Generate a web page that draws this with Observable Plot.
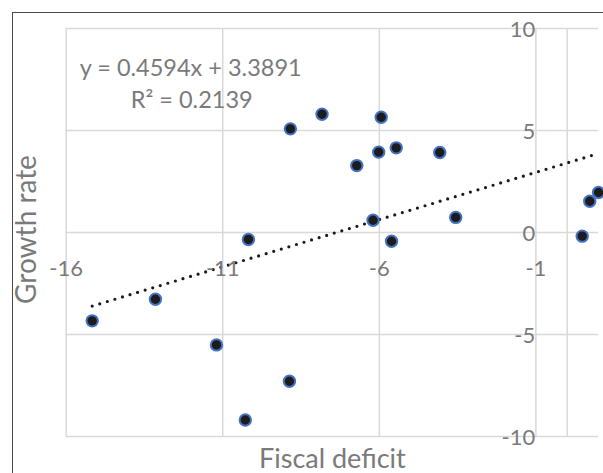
<!DOCTYPE html>
<html>
<head>
<meta charset="utf-8">
<script src="https://cdn.jsdelivr.net/npm/d3@7"></script>
<script src="https://cdn.jsdelivr.net/npm/@observablehq/plot@0.6"></script>
<style>
  html, body { margin: 0; padding: 0; background: #fff; overflow: hidden; width: 603px; height: 473px; }
  #wrap { position: relative; width: 603px; height: 473px; }
  #border { position: absolute; left: 12px; top: 12px; width: 700px; height: 700px; border: 1px solid #4a4a4a; box-sizing: border-box; pointer-events: none; }
  #chart { position: absolute; left: 0; top: 0; }
</style>
</head>
<body>
<div id="wrap"><div id="border"></div><div id="chart"></div></div>
<script>
// Data (fiscal deficit vs growth rate)
const fiscalDeficit = [-15.17, -13.15, -11.20, -10.28, -10.18, -8.84, -8.87, -7.83, -6.72, -6.20, -6.02, -5.94, -5.61, -5.46, -4.07, -3.56, 0.48, 0.72, 1.00];
const growthRate    = [-4.33, -3.27, -5.51, -9.19, -0.34, 5.08, -7.29, 5.80, 3.28, 0.60, 3.94, 5.65, -0.43, 4.15, 3.92, 0.74, -0.18, 1.53, 1.96];

const xTicks = [-16, -11, -6, -1];
const xTickLabels = ["-16", "-11", "-6", "-1"];
const yTicks = [-10, -5, 0, 5, 10];
const yTickLabels = ["-10", "-5", "0", "5", "10"];
const equationLines = ["y = 0.4594x + 3.3891", "R\u00B2 = 0.2139"];
const xTitle = ["Fiscal deficit"];
const yTitle = ["Growth rate"];

const points = fiscalDeficit.map((x, i) => ({x, y: growthRate[i]}));
const xLabelData = xTicks.map((v, i) => ({v, t: xTickLabels[i]}));
const yLabelData = yTicks.map((v, i) => ({v, t: yTickLabels[i]}));

const grid = "#d9d9d9";
const txt = "#7a7a7a";
const font = "Lato, 'Open Sans', sans-serif";

const chart = Plot.plot({
  width: 603,
  height: 473,
  marginLeft: 65.7,
  marginRight: 5,
  marginTop: 28,
  marginBottom: 37,
  x: {domain: [-16, 1], axis: null},
  y: {domain: [-10, 10], axis: null},
  style: {fontFamily: font, background: "transparent", overflow: "visible"},
  marks: [
    Plot.ruleX(xTicks, {stroke: grid, strokeWidth: 1.5}),
    Plot.ruleY(yTicks, {stroke: grid, strokeWidth: 1.5}),
    Plot.ruleX([0], {stroke: grid, strokeWidth: 1.5}),
    Plot.linearRegressionY(points, {x: "x", y: "y", ci: 0, stroke: "#1a1a1a", strokeWidth: 3.2, strokeDasharray: "0 7.9", strokeLinecap: "round"}),
    Plot.dot(points, {x: "x", y: "y", r: 5.7, fill: "#1c1c1c", stroke: "#4472c4", strokeWidth: 2}),
    Plot.text(xLabelData, {x: "v", y: () => 0, text: "t", dy: 36, fontSize: 22, fill: txt, textAnchor: "middle", lineAnchor: "middle"}),
    Plot.text(yLabelData, {x: () => 0, y: "v", text: "t", dx: -32, dy: 1, fontSize: 22, fill: txt, textAnchor: "end", lineAnchor: "middle"}),
    Plot.text([equationLines[0]], {frameAnchor: "top-left", text: d => d, dx: 124.5, dy: 39.5, fontSize: 23.5, fill: txt, textAnchor: "middle", lineAnchor: "middle"}),
    Plot.text([equationLines[1]], {frameAnchor: "top-left", text: d => d, dx: 125.5, dy: 72, fontSize: 23.5, fill: txt, textAnchor: "middle", lineAnchor: "middle"}),
    Plot.text(xTitle, {frameAnchor: "bottom", text: d => d, dy: 22.5, fontSize: 27, fill: txt, textAnchor: "middle", lineAnchor: "middle"}),
    Plot.text(yTitle, {frameAnchor: "left", text: d => d, dx: -39.3, dy: -3, rotate: -90, fontSize: 28, fill: txt, textAnchor: "middle", lineAnchor: "middle"})
  ]
});
document.getElementById("chart").appendChild(chart);
</script>
</body>
</html>
